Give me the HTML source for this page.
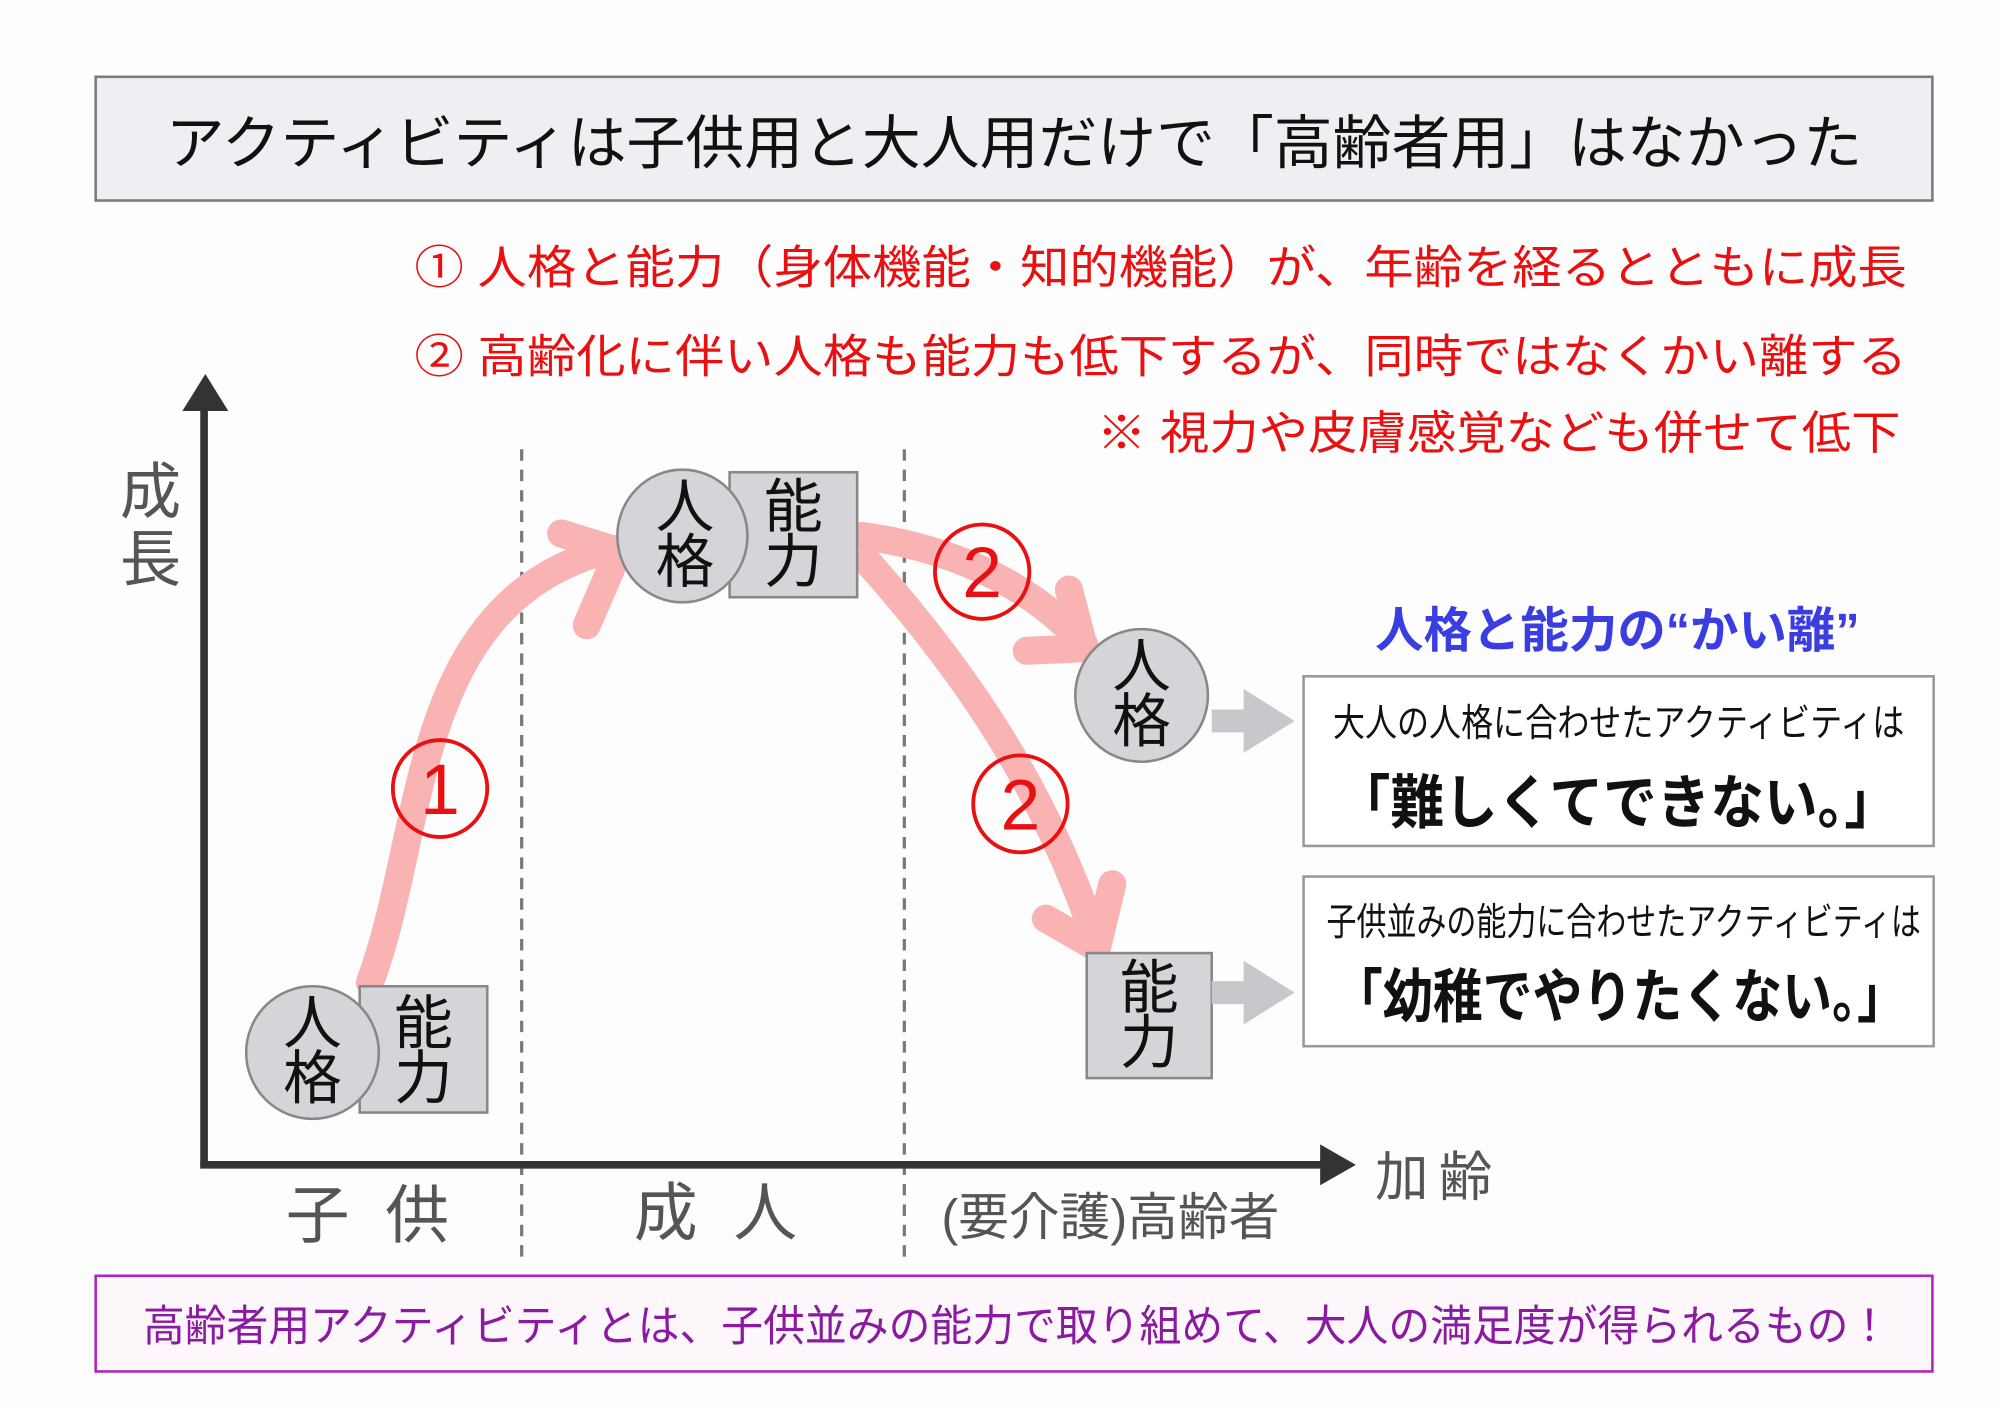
<!DOCTYPE html>
<html><head><meta charset="utf-8"><style>
html,body{margin:0;padding:0;background:#fff}
svg{display:block}
text{font-family:"Liberation Sans","Noto Sans CJK JP",sans-serif}
</style></head><body>
<svg width="2000" height="1410" viewBox="0 0 1568 1105" xmlns="http://www.w3.org/2000/svg">
<rect x="0" y="0" width="1568" height="1105" fill="#fdfdfd"/>
<rect x="75" y="60" width="1440" height="97" fill="#efeff3" stroke="#7a7a7a" stroke-width="2"/>
<text x="130" y="128" font-size="46" fill="#111" textLength="1330" lengthAdjust="spacingAndGlyphs">アクティビティは子供用と大人用だけで「高齢者用」はなかった</text>
<g fill="#e81010" font-size="36">
<text x="325" y="222" textLength="1170" lengthAdjust="spacingAndGlyphs">①  人格と能力（身体機能・知的機能）が、年齢を経るとともに成長</text>
<text x="325" y="292" textLength="1170" lengthAdjust="spacingAndGlyphs">②  高齢化に伴い人格も能力も低下するが、同時ではなくかい離する</text>
<text x="860" y="352" textLength="630" lengthAdjust="spacingAndGlyphs">※  視力や皮膚感覚なども併せて低下</text>
</g>
<g stroke="#777" stroke-width="2.5" stroke-dasharray="9,7">
<line x1="409" y1="352" x2="409" y2="990"/>
<line x1="709" y1="352" x2="709" y2="990"/>
</g>
<g stroke="#333" stroke-width="6" fill="none">
<line x1="160" y1="318" x2="160" y2="915"/>
<line x1="157" y1="913" x2="1040" y2="913"/>
</g>
<polygon points="143,322 161,293 179,322" fill="#333"/>
<polygon points="1035,897 1063,913 1035,929" fill="#333"/>
<g fill="#555" font-size="48">
<text x="94" y="402">成</text><text x="94" y="455">長</text>
</g>
<text x="1078" y="937" font-size="42" fill="#555" letter-spacing="8">加齢</text>
<g fill="#555" font-size="50">
<text x="224" y="970" textLength="128" lengthAdjust="spacing">子供</text>
<text x="497" y="968" textLength="128" lengthAdjust="spacing">成人</text>
</g>
<text x="738" y="968" font-size="40" fill="#555" textLength="265" lengthAdjust="spacingAndGlyphs">(要介護)高齢者</text>
<g stroke="#f9b3b3" stroke-width="22" fill="none" stroke-linecap="round" stroke-linejoin="round">
<path d="M290 770 C335 650, 320 470, 480 430"/>
<path d="M440 418 L485 432 L460 490"/>
<path d="M676 420 C750 430, 810 460, 850 505"/>
<path d="M838 462 L850 508 L805 510"/>
<path d="M680 440 C760 530, 820 620, 860 740"/>
<path d="M820 720 L860 743 L872 693"/>
</g>
<g fill="none" stroke="#e81010" stroke-width="3">
<ellipse cx="345" cy="618" rx="37" ry="38"/>
<ellipse cx="770" cy="448" rx="37" ry="37"/>
<ellipse cx="800" cy="630" rx="37" ry="38"/>
</g>
<g fill="#e81010" font-size="56" text-anchor="middle">
<text x="345" y="638">1</text>
<text x="770" y="468">2</text>
<text x="800" y="650">2</text>
</g>
<g fill="#d5d5d9" stroke="#888" stroke-width="2">
<rect x="282" y="773" width="100" height="99"/>
<ellipse cx="245" cy="825" rx="52" ry="52"/>
<rect x="572" y="370" width="100" height="98"/>
<ellipse cx="535" cy="420" rx="51" ry="52"/>
<ellipse cx="895" cy="545" rx="52" ry="52"/>
<rect x="852" y="747" width="98" height="98"/>
</g>
<g font-size="46" fill="#111" text-anchor="middle">
<text x="245" y="818">人</text><text x="245" y="861">格</text>
<text x="332" y="818">能</text><text x="332" y="861">力</text>
<text x="537" y="413">人</text><text x="537" y="456">格</text>
<text x="622" y="413">能</text><text x="622" y="456">力</text>
<text x="895" y="538">人</text><text x="895" y="581">格</text>
<text x="901" y="790">能</text><text x="901" y="833">力</text>
</g>
<g fill="#c8c8cc">
<polygon points="950,556 975,556 975,540 1015,565 975,590 975,574 950,574"/>
<polygon points="950,769 975,769 975,753 1015,778 975,803 975,787 950,787"/>
</g>
<text x="1268" y="507" font-size="38" font-weight="bold" fill="#3a3ee0" text-anchor="middle">人格と能力の“かい離”</text>
<g fill="#fff" stroke="#999" stroke-width="2">
<rect x="1022" y="530" width="494" height="133"/>
<rect x="1022" y="687" width="494" height="133"/>
</g>
<g fill="#111">
<text x="1045" y="577" font-size="30" textLength="448" lengthAdjust="spacingAndGlyphs">大人の人格に合わせたアクティビティは</text>
<text x="1048" y="645" font-size="46" font-weight="bold" textLength="440" lengthAdjust="spacingAndGlyphs">「難しくてできない。」</text>
<text x="1040" y="733" font-size="30" textLength="466" lengthAdjust="spacingAndGlyphs">子供並みの能力に合わせたアクティビティは</text>
<text x="1045" y="797" font-size="46" font-weight="bold" textLength="450" lengthAdjust="spacingAndGlyphs">「幼稚でやりたくない。」</text>
</g>
<rect x="75" y="1000" width="1440" height="75" fill="#fdf7fc" stroke="#b022c0" stroke-width="2"/>
<text x="112" y="1051" font-size="34" fill="#8a1aa0" textLength="1370" lengthAdjust="spacingAndGlyphs">高齢者用アクティビティとは、子供並みの能力で取り組めて、大人の満足度が得られるもの！</text>
</svg>
</body></html>
